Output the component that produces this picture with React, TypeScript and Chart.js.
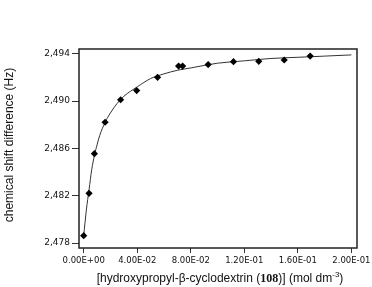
import React, { useEffect, useRef } from 'react';
import { Chart, registerables } from 'chart.js';

Chart.register(...registerables);

// measured data points (diamonds)
const pointX = [0, 0.004, 0.008, 0.016, 0.0276, 0.0396, 0.0552, 0.0709, 0.0739, 0.093, 0.1119, 0.1308, 0.1498, 0.1692];
const pointY = [2.47862, 2.4822, 2.48555, 2.48821, 2.49011, 2.49089, 2.49201, 2.49296, 2.49296, 2.49308, 2.49333, 2.49336, 2.49347, 2.4938];

// fitted curve
const curveX = [0, 0.002, 0.004, 0.006, 0.008, 0.01, 0.012, 0.016, 0.02, 0.025, 0.03, 0.04, 0.05, 0.06, 0.07, 0.08, 0.1, 0.12, 0.14, 0.16, 0.18, 0.2];
const curveY = [2.4786, 2.4808, 2.4825, 2.4842, 2.4854, 2.4863, 2.4871, 2.4882, 2.489, 2.4898, 2.4904, 2.4912, 2.4919, 2.4923, 2.4926, 2.4928, 2.4932, 2.4934, 2.4936, 2.4937, 2.4938, 2.4939];

const xTicks = [0, 0.04, 0.08, 0.12, 0.16, 0.2];
const xTickLabels = ['0.00E+00', '4.00E-02', '8.00E-02', '1.20E-01', '1.60E-01', '2.00E-01'];
const yTicks = [2.478, 2.482, 2.486, 2.49, 2.494];
const yTickLabels = ['2,478', '2,482', '2,486', '2,490', '2,494'];

const yTitle = 'chemical shift difference (Hz)';
const xTitleParts = ['[hydroxypropyl-β-cyclodextrin (', '108', ')] (mol dm', '-3', ')'];

const framePlugin = {
  id: 'frameAndTitles',
  afterDraw(chart: any) {
    const { ctx, chartArea } = chart;
    const { left, right, top, bottom } = chartArea;
    ctx.save();
    ctx.strokeStyle = '#222';
    ctx.lineWidth = 1.5;
    ctx.strokeRect(left, top, right - left, bottom - top);

    // y title
    ctx.fillStyle = '#111';
    ctx.font = '12px "Liberation Sans", Arial, sans-serif';
    ctx.textAlign = 'center';
    ctx.textBaseline = 'middle';
    ctx.translate(10, 145);
    ctx.rotate(-Math.PI / 2);
    ctx.fillText(yTitle, 0, 0);
    ctx.restore();

    // x title with mixed fonts
    ctx.save();
    ctx.fillStyle = '#111';
    ctx.textBaseline = 'alphabetic';
    ctx.textAlign = 'left';
    const fonts = [
      '12px "Liberation Sans", Arial, sans-serif',
      'bold 12px "Liberation Serif", serif',
      '12px "Liberation Sans", Arial, sans-serif',
      '8px "Liberation Sans", Arial, sans-serif',
      '12px "Liberation Sans", Arial, sans-serif',
    ];
    const rise = [0, 0, 0, -5, 0];
    let total = 0;
    const widths = xTitleParts.map((t, i) => {
      ctx.font = fonts[i];
      const w = ctx.measureText(t).width;
      total += w;
      return w;
    });
    let x = 220 - total / 2;
    const baseY = 282;
    xTitleParts.forEach((t, i) => {
      ctx.font = fonts[i];
      ctx.fillText(t, x, baseY + rise[i]);
      x += widths[i];
    });
    ctx.restore();
  },
};

export default function App() {
  const ref = useRef<HTMLCanvasElement | null>(null);
  useEffect(() => {
    if (!ref.current) return;
    const chart = new Chart(ref.current, {
      type: 'scatter',
      data: {
        datasets: [
          {
            label: 'data',
            data: pointX.map((x, i) => ({ x, y: pointY[i] })),
            pointStyle: 'rectRot',
            pointRadius: 3.6,
            backgroundColor: '#000',
            borderColor: '#000',
            borderWidth: 0,
            showLine: false,
          },
          {
            label: 'fit',
            data: curveX.map((x, i) => ({ x, y: curveY[i] })),
            showLine: true,
            pointRadius: 0,
            borderColor: '#333',
            borderWidth: 1,
            cubicInterpolationMode: 'monotone',
          } as any,
        ],
      },
      options: {
        animation: false,
        responsive: false,
        layout: { padding: { top: 49, right: 15, left: 0, bottom: 0 } },
        plugins: { legend: { display: false }, tooltip: { enabled: false } },
        scales: {
          x: {
            type: 'linear',
            position: 'bottom',
            min: -0.0035,
            max: 0.2042,
            afterBuildTicks: (s: any) => {
              s.ticks = xTicks.map((v) => ({ value: v }));
            },
            afterFit: (s: any) => {
              s.height = 39;
              s.paddingLeft = 0;
              s.paddingRight = 0;
            },
            grid: { display: true, drawOnChartArea: false, drawTicks: true, tickLength: 5, color: '#333', lineWidth: 1 },
            border: { display: false },
            ticks: {
              autoSkip: false,
              maxRotation: 0,
              minRotation: 0,
              padding: 3,
              color: '#111',
              font: { family: '"DejaVu Sans", sans-serif', size: 8.5 },
              callback: (v: any, i: number) => xTickLabels[i],
            },
          },
          y: {
            type: 'linear',
            min: 2.47758,
            max: 2.4944,
            afterBuildTicks: (s: any) => {
              s.ticks = yTicks.map((v) => ({ value: v }));
            },
            afterFit: (s: any) => {
              s.width = 79;
              s.paddingTop = 0;
              s.paddingBottom = 0;
            },
            grid: { display: true, drawOnChartArea: false, drawTicks: true, tickLength: 7, color: '#333', lineWidth: 1 },
            border: { display: false },
            ticks: {
              autoSkip: false,
              padding: 2,
              color: '#111',
              font: { family: '"DejaVu Sans", sans-serif', size: 9 },
              callback: (v: any, i: number) => yTickLabels[i],
            },
          },
        },
      },
      plugins: [framePlugin],
    });
    return () => chart.destroy();
  }, []);
  return (
    <div style={{ position: 'fixed', left: 0, top: 0, width: 372, height: 287, background: '#fff' }}>
      <canvas ref={ref} width={372} height={287} />
    </div>
  );
}
